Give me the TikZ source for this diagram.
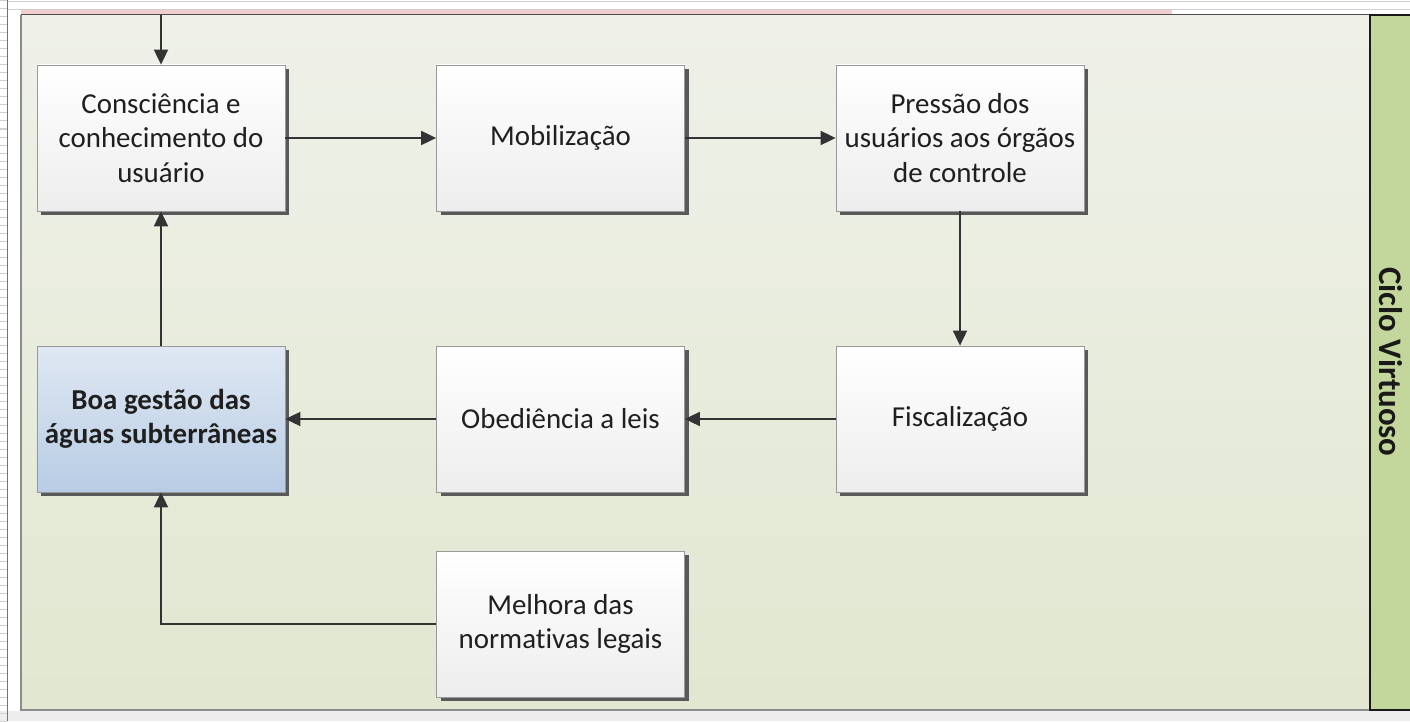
\documentclass[tikz,border=0pt]{standalone}
\usepackage{fontspec}
\setmainfont{Carlito}[Ligatures=NoCommon]
\usetikzlibrary{shadows,arrows.meta}
\definecolor{panelTop}{HTML}{EFF1E9}
\definecolor{panelBot}{HTML}{E1E7D0}
\definecolor{bandGreen}{HTML}{C3D69B}
\definecolor{pinkBand}{HTML}{F2CFCF}
\definecolor{blueTop}{HTML}{DFE8F3}
\definecolor{blueBot}{HTML}{B8CCE4}
\definecolor{lineGray}{HTML}{D0D0D0}
\begin{document}
\begin{tikzpicture}[x=1bp,y=-1bp,
  boxn/.style={draw=black!40, line width=0.8bp, minimum width=248bp, minimum height=146bp,
    top color=white, bottom color=black!7, align=center, inner sep=4bp,
    font=\fontsize{29}{34.5}\selectfont, text=black!88,
    drop shadow={shadow xshift=4bp, shadow yshift=-4bp, fill=black!65, opacity=1}},
  bluebox/.style={boxn, top color=blueTop, bottom color=blueBot, font=\fontsize{29}{34.5}\selectfont\bfseries},
  conn/.style={draw=black!80, line width=1.9bp, -{Triangle[length=15bp,width=14bp]}}
]
\useasboundingbox (0,0) rectangle (1410,721);
% page background
\fill[white] (0,0) rectangle (1410,721);
\fill[black!7] (0,711) rectangle (1410,721);
\foreach \yy in {1,9,...,721} { \draw[lineGray, line width=1bp] (0,\yy) -- (7,\yy); }
\draw[black!55, line width=1bp] (7.5,0) -- (7.5,721);
\draw[lineGray, line width=1.2bp] (8,1.5) -- (1410,1.5);
\draw[lineGray, line width=1.2bp] (8,9.5) -- (1410,9.5);
\fill[pinkBand] (21,10) rectangle (1172,15);
% main panel
\shade[top color=panelTop, bottom color=panelBot] (21,15) rectangle (1370,710);
\draw[black!45, line width=1.3bp] (21,15) -- (21,710) -- (1370,710);
\draw[black!70, line width=1bp] (21,15) -- (1370,15);
% side band
\fill[bandGreen] (1370,15) rectangle (1410,710);
\draw[black!90, line width=1.6bp] (1410,15) -- (1370,15) -- (1370,710) -- (1410,710);
\node[rotate=-90, font=\fontsize{33}{38}\selectfont\bfseries, text=black!90] (label) at (1391,362) {Ciclo Virtuoso};
% boxes
\node[boxn] (cons) at (161,138) {Consciência e\\conhecimento do\\usuário};
\node[boxn] (mob) at (560.5,138) {Mobilização};
\node[boxn] (pres) at (960,138) {Pressão dos\\usuários aos órgãos\\de controle};
\node[bluebox] (boa) at (161,419) {Boa gestão das\\águas subterrâneas};
\node[boxn] (obed) at (560.5,419) {Obediência a leis};
\node[boxn] (fisc) at (960,419) {Fiscalização};
\node[boxn] (melh) at (560.5,624) {Melhora das\\normativas legais};
% connectors
\coordinate (topin) at (161,15);
\draw[conn] (topin) -- (cons.north);
\draw[conn] (cons) -- (mob);
\draw[conn] (mob) -- (pres);
\draw[conn] (pres) -- (fisc);
\draw[conn] (fisc) -- (obed);
\draw[conn] (obed) -- (boa);
\draw[conn] (boa) -- (cons);
\draw[conn] (melh.west) -| (boa.south);
\end{tikzpicture}
\end{document}
